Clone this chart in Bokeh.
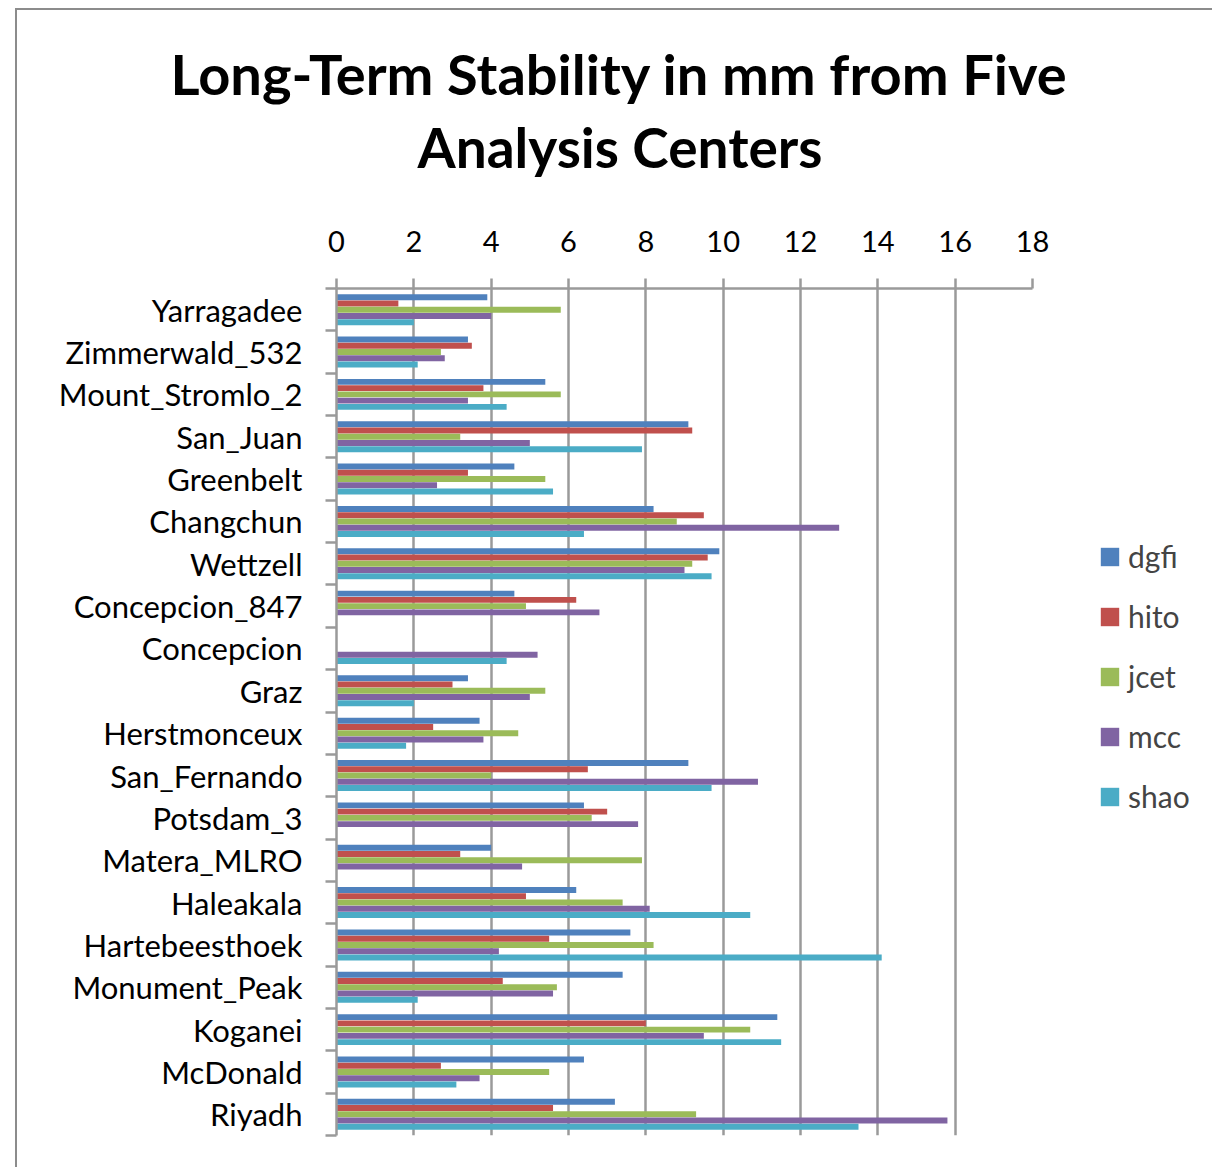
import numpy as np
from bokeh.plotting import figure
from bokeh.models import (Range1d, FixedTicker, Legend, LegendItem,
                          ColumnDataSource, Title)
from bokeh.embed import file_html
from bokeh.resources import INLINE

nan = float("nan")

stations = ["Yarragadee", "Zimmerwald_532", "Mount_Stromlo_2", "San_Juan", "Greenbelt",
            "Changchun", "Wettzell", "Concepcion_847", "Concepcion", "Graz",
            "Herstmonceux", "San_Fernando", "Potsdam_3", "Matera_MLRO", "Haleakala",
            "Hartebeesthoek", "Monument_Peak", "Koganei", "McDonald", "Riyadh"]

dgfi = [3.9, 3.4, 5.4, 9.1, 4.6, 8.2, 9.9, 4.6, nan, 3.4, 3.7, 9.1, 6.4, 4.0, 6.2, 7.6, 7.4, 11.4, 6.4, 7.2]
hito = [1.6, 3.5, 3.8, 9.2, 3.4, 9.5, 9.6, 6.2, nan, 3.0, 2.5, 6.5, 7.0, 3.2, 4.9, 5.5, 4.3, 8.0, 2.7, 5.6]
jcet = [5.8, 2.7, 5.8, 3.2, 5.4, 8.8, 9.2, 4.9, nan, 5.4, 4.7, 4.0, 6.6, 7.9, 7.4, 8.2, 5.7, 10.7, 5.5, 9.3]
mcc = [4.0, 2.8, 3.4, 5.0, 2.6, 13.0, 9.0, 6.8, 5.2, 5.0, 3.8, 10.9, 7.8, 4.8, 8.1, 4.2, 5.6, 9.5, 3.7, 15.8]
shao = [2.0, 2.1, 4.4, 7.9, 5.6, 6.4, 9.7, nan, 4.4, 2.0, 1.8, 9.7, nan, nan, 10.7, 14.1, 2.1, 11.5, 3.1, 13.5]

series_names = ["dgfi", "hito", "jcet", "mcc", "shao"]
series_values = [dgfi, hito, jcet, mcc, shao]
colors = ["#4F81BD", "#C0504D", "#9BBB59", "#8064A2", "#4BACC6"]
x_ticks = [0, 2, 4, 6, 8, 10, 12, 14, 16, 18]

title_line1 = "Long-Term Stability in mm from Five"
title_line2 = "Analysis Centers"

GRAY = "#9a9a9a"
FONT = "Lato"
n = len(stations)

# canvas starts at page (17, 10) because of the CSS margin + border
FRAME_W, FRAME_H = 696, 847
ML, MT, MR, MB = 319, 278, 176, 32

p = figure(width=ML + FRAME_W + MR, height=MT + FRAME_H + MB,
           x_range=Range1d(0, 18), y_range=Range1d(2 * n, 0),
           x_axis_location="above", output_backend="svg", toolbar_location=None,
           min_border_left=ML, min_border_top=MT, min_border_right=MR, min_border_bottom=MB)
p.frame_width = FRAME_W
p.frame_height = FRAME_H
p.outline_line_color = None
p.background_fill_color = "white"
p.border_fill_color = "white"
p.styles = {"margin-left": "15px", "margin-top": "8px",
            "border-left": "2px solid #8c8c8c", "border-top": "2px solid #8c8c8c"}

# x axis on top
xa = p.xaxis[0]
xa.ticker = FixedTicker(ticks=x_ticks)
xa.major_tick_out = 10
xa.major_tick_in = 0
xa.minor_tick_line_color = None
xa.major_tick_line_color = GRAY
xa.major_tick_line_width = 2.5
xa.axis_line_color = GRAY
xa.axis_line_width = 2.5
xa.major_label_text_font = FONT
xa.major_label_text_font_size = "29px"
xa.major_label_text_color = "black"
xa.major_label_standoff = 27

p.xgrid.ticker = FixedTicker(ticks=x_ticks)
p.xgrid.grid_line_color = GRAY
p.xgrid.grid_line_width = 2.5
p.ygrid.visible = False

# y axis: labels at category centres, ticks at category boundaries
ya = p.yaxis[0]
ya.ticker = FixedTicker(ticks=[2 * i + 1 for i in range(n)],
                        minor_ticks=[2 * i for i in range(n + 1)])
ya.major_label_overrides = {2 * i + 1: s for i, s in enumerate(stations)}
ya.major_tick_out = 0
ya.major_tick_in = 0
ya.minor_tick_out = 11
ya.minor_tick_in = 0
ya.minor_tick_line_color = GRAY
ya.minor_tick_line_width = 2.5
ya.axis_line_color = GRAY
ya.axis_line_width = 2.5
ya.major_label_text_font = FONT
ya.major_label_text_font_size = "31px"
ya.major_label_text_color = "black"
ya.major_label_standoff = 23

pitch = 0.295
bar_h = 0.28
items = []
for k, (name, vals, col) in enumerate(zip(series_names, series_values, colors)):
    ys = [2 * i + 1 + (k - 2) * pitch for i in range(n)]
    src = ColumnDataSource(dict(y=ys, right=vals, left=[0] * n))
    r = p.hbar(y="y", left="left", right="right", height=bar_h, source=src,
               fill_color=col, line_color=None)
    items.append(LegendItem(label=name, renderers=[r]))

legend = Legend(items=items, location=(66, 321), glyph_width=23, glyph_height=23,
                label_text_font=FONT, label_text_font_size="30px", label_height=36,
                label_standoff=7, spacing=24, padding=0, margin=0,
                border_line_color=None, background_fill_alpha=0)
p.add_layout(legend, "right")

# two-line title: second line nearer the plot, first line outermost
p.add_layout(Title(text=title_line2, align="left", offset=81, standoff=96,
                   text_font=FONT, text_font_size="55px", text_font_style="bold",
                   text_color="black"), "above")
p.title = Title(text=title_line1, align="left", offset=-166, standoff=-86,
                text_font=FONT, text_font_size="56px", text_font_style="bold",
                text_color="black")

open("out.html", "w").write(file_html(p, INLINE))
